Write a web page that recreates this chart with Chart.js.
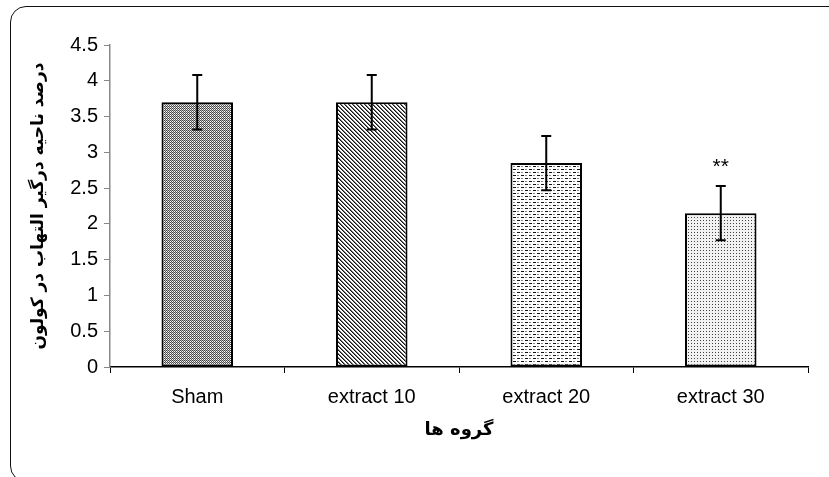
<!DOCTYPE html>
<html>
<head>
    <title>Colon inflammation</title>
    <script src="https://cdn.jsdelivr.net/npm/chart.js"></script>
    <style>
        body { margin: 0; background: #fff; overflow: hidden; }
        .wrap { position: relative; width: 829px; height: 477px; overflow: hidden; }
        .frame {
            position: absolute; left: 10px; top: 6px; width: 834px; height: 474px;
            border: 1.5px solid #111; border-radius: 16px;
        }
        #chart { position: absolute; left: 0; top: 0; }
    </style>
</head>
<body>
<div class="wrap">
    <div class="frame"></div>
    <canvas id="chart" width="829" height="477"></canvas>
</div>
<script>
// values
var groups = ['Sham', 'extract 10', 'extract 20', 'extract 30'];
var means = [3.7, 3.7, 2.85, 2.15];
var errors = [0.38, 0.38, 0.38, 0.38];
var marks = ['', '', '', '**'];
var yTicks = [0, 0.5, 1, 1.5, 2, 2.5, 3, 3.5, 4, 4.5];
var yTitle = 'درصد ناحیه درگیر التهاب در کولون';
var xTitle = 'گروه ها';

function makePattern(w, h, paint) {
    var c = document.createElement('canvas');
    c.width = w; c.height = h;
    var g = c.getContext('2d');
    g.fillStyle = '#fff';
    g.fillRect(0, 0, w, h);
    paint(g);
    return g.createPattern(c, 'repeat');
}
function px(g, x, y, col) { g.fillStyle = col; g.fillRect(x, y, 1, 1); }

var fills = [
    // fine dark checker
    makePattern(2, 2, function(g) {
        px(g, 0, 0, '#444'); px(g, 1, 1, '#555'); px(g, 1, 0, '#bbb');
    }),
    // diagonal hatch
    makePattern(4, 4, function(g) {
        for (var y = 0; y < 4; y++) for (var x = 0; x < 4; x++) {
            var d = (x - y + 8) % 4;
            if (d == 0) px(g, x, y, '#111');
            else if (d == 1) px(g, x, y, '#777');
        }
    }),
    // horizontal dashes
    makePattern(8, 6, function(g) {
        g.fillStyle = '#111'; g.fillRect(1, 1, 3, 1); g.fillRect(5, 4, 3, 1);
        g.fillStyle = '#888'; g.fillRect(5, 1, 2, 1); g.fillRect(1, 4, 2, 1);
    }),
    // sparse dots
    makePattern(3, 3, function(g) {
        g.fillStyle = '#f2f2f2'; g.fillRect(0, 0, 3, 3);
        px(g, 1, 1, '#444');
    })
];

var errorBars = {
    id: 'errorBars',
    afterDatasetsDraw: function(chart) {
        var ctx = chart.ctx;
        var y = chart.scales.y;
        var meta = chart.getDatasetMeta(0);
        ctx.save();
        ctx.strokeStyle = '#000';
        ctx.lineWidth = 2;
        meta.data.forEach(function(bar, i) {
            var top = y.getPixelForValue(means[i] + errors[i]);
            var bot = y.getPixelForValue(means[i] - errors[i]);
            ctx.beginPath();
            ctx.moveTo(bar.x, top); ctx.lineTo(bar.x, bot);
            ctx.moveTo(bar.x - 5, top); ctx.lineTo(bar.x + 5, top);
            ctx.moveTo(bar.x - 5, bot); ctx.lineTo(bar.x + 5, bot);
            ctx.stroke();
            if (marks[i]) {
                ctx.fillStyle = '#000';
                ctx.font = '21px "Liberation Sans", Arial, sans-serif';
                ctx.textAlign = 'center';
                ctx.textBaseline = 'bottom';
                ctx.fillText(marks[i], bar.x, top - 8);
            }
        });
        ctx.restore();
    }
};

new Chart(document.getElementById('chart'), {
    type: 'bar',
    data: {
        labels: groups,
        datasets: [{
            data: means,
            backgroundColor: fills,
            borderColor: '#000',
            borderWidth: 2,
            borderSkipped: false,
            barPercentage: 0.41,
            categoryPercentage: 1
        }]
    },
    options: {
        responsive: false,
        animation: false,
        devicePixelRatio: 1,
        layout: { padding: { left: 26, right: 21, top: 45, bottom: 36 } },
        plugins: { legend: { display: false }, tooltip: { enabled: false } },
        scales: {
            x: {
                afterFit: function(s) { s.height = 74; },
                grid: { drawOnChartArea: false, color: '#000', tickLength: 6, offset: true },
                border: { color: '#000', width: 1.5 },
                ticks: { color: '#000', padding: 12, font: { family: '"Liberation Sans", Arial, sans-serif', size: 20 } },
                title: {
                    display: true, text: xTitle, color: '#000', padding: { top: 0, bottom: 0 },
                    font: { family: '"DejaVu Sans", sans-serif', size: 18, weight: 'bold' }
                }
            },
            y: {
                min: 0, max: 4.5,
                afterFit: function(s) { s.width = 84; },
                afterBuildTicks: function(s) { s.ticks = yTicks.map(function(v) { return { value: v }; }); },
                grid: { drawOnChartArea: false, color: '#888', tickLength: 6 },
                border: { color: '#888', width: 1.5 },
                ticks: {
                    color: '#000', padding: 6,
                    font: { family: '"Liberation Sans", Arial, sans-serif', size: 20 },
                    callback: function(v) { return String(v); }
                },
                title: {
                    display: true, text: yTitle, color: '#000', padding: { top: 2, bottom: 0 },
                    font: { family: '"DejaVu Sans", sans-serif', size: 17, weight: 'bold' }
                }
            }
        }
    },
    plugins: [errorBars]
});
</script>
</body>
</html>
